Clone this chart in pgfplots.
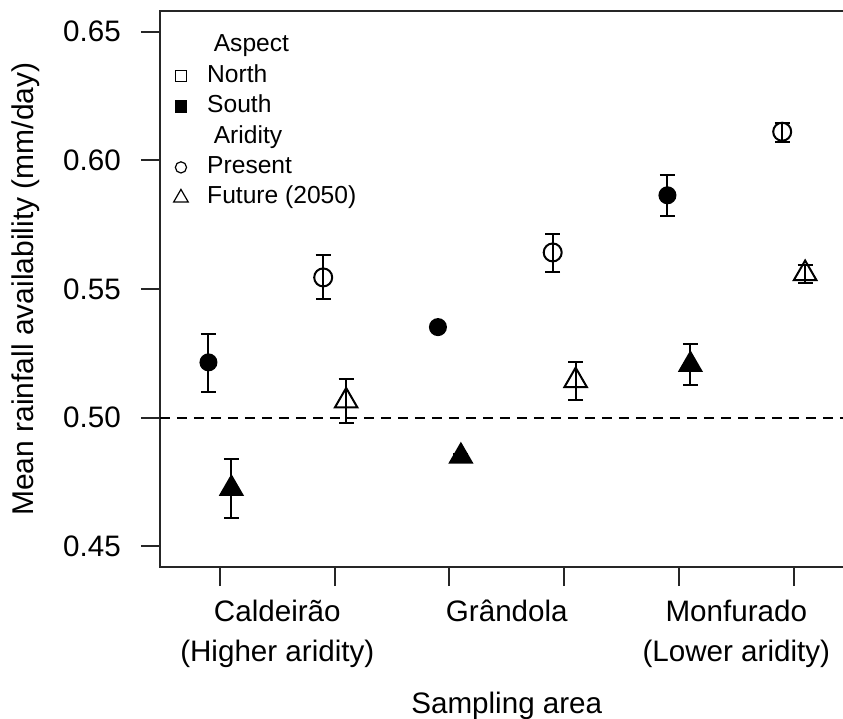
\documentclass[border=0pt]{standalone}
\usepackage{fontspec}
\setmainfont{Liberation Sans}
\usepackage{pgfplots}
\pgfplotsset{compat=1.18}
\usepackage{pgfplotstable}

% South aspect, present aridity
\pgfplotstableread{
x y ep em
0.9 0.5215 0.0112 0.0115
2.9 0.5352 0.0010 0.0010
4.9 0.5864 0.0080 0.0079
}\southpresent
% South aspect, future aridity
\pgfplotstableread{
x y ep em
1.1 0.4725 0.0114 0.0114
3.1 0.4850 0.0010 0.0010
5.1 0.5206 0.0080 0.0079
}\southfuture
% North aspect, present aridity
\pgfplotstableread{
x y ep em
1.9 0.5545 0.0087 0.0083
3.9 0.5642 0.0073 0.0076
5.9 0.6111 0.0035 0.0039
}\northpresent
% North aspect, future aridity
\pgfplotstableread{
x y ep em
2.1 0.5065 0.0086 0.0086
4.1 0.5144 0.0074 0.0075
6.1 0.5560 0.0032 0.0035
}\northfuture

\begin{document}
\begin{tikzpicture}
\begin{axis}[
  at={(0,0)}, anchor=south west,
  scale only axis, width=347pt, height=278pt,
  xmin=0.476, xmax=6.524, ymin=0.442, ymax=0.658,
  axis line style={line width=1pt, black!85},
  tick pos=left,
  tick align=outside, major tick length=9.5pt,
  tick style={line width=1pt, black!85},
  xtick={1,2,3,4,5,6}, xticklabels={},
  extra x ticks={1.5,3.5,5.5},
  extra x tick labels={{Caldeirão\\(Higher aridity)},{Grândola},{Monfurado\\(Lower aridity)}},
  extra x tick style={tick style={draw=none}},
  xticklabel style={align=center, font=\fontsize{14.8}{20}\selectfont, yshift=-3.5pt},
  ytick={0.45,0.50,0.55,0.60,0.65},
  yticklabel style={font=\fontsize{14.8}{17}\selectfont, xshift=-6.5pt,
    /pgf/number format/fixed, /pgf/number format/fixed zerofill,
    /pgf/number format/precision=2},
  /pgf/number format/assume math mode=true,
  xlabel={Sampling area},
  ylabel={Mean rainfall availability (mm/day)},
  xlabel style={at={(axis description cs:0.5,-0.25)}, anchor=center, font=\fontsize{14.8}{17}\selectfont},
  ylabel style={at={(axis description cs:-0.193,0.5)}, anchor=center, font=\fontsize{15}{17}\selectfont},
  legend image code/.code={\draw[#1] plot coordinates {(0pt,0pt)};},
  legend cell align=left,
  legend style={draw=none, fill=none, inner sep=0pt, outer sep=0pt,
    at={(axis description cs:0.02,0.959)}, anchor=north west,
    font=\fontsize{12.3}{14}\selectfont,
    nodes={inner sep=0pt, text height=9pt, text depth=3pt},
    row sep=3.2pt, column sep=9.5pt},
]
\addplot[black, dashed, line width=1pt, dash pattern=on 5pt off 3.5pt, forget plot]
  coordinates {(0.476,0.5) (6.524,0.5)};

\addplot[only marks, black, mark=*, mark size=4pt, line width=1pt, forget plot,
  error bars/.cd, y dir=both, y explicit,
  error bar style={line width=1pt, black},
  error mark options={rotate=90, mark size=3.75pt, line width=1pt, black}]
  table[x=x, y=y, y error plus=ep, y error minus=em] {\southpresent};
\addplot[only marks, black, mark=triangle*, mark size=6.3pt, line width=1pt, forget plot,
  error bars/.cd, y dir=both, y explicit,
  error bar style={line width=1pt, black},
  error mark options={rotate=90, mark size=3.75pt, line width=1pt, black}]
  table[x=x, y=y, y error plus=ep, y error minus=em] {\southfuture};
\addplot[only marks, black, mark=o, mark size=4.5pt, line width=1pt, forget plot,
  error bars/.cd, y dir=both, y explicit,
  error bar style={line width=1pt, black},
  error mark options={rotate=90, mark size=3.75pt, line width=1pt, black}]
  table[x=x, y=y, y error plus=ep, y error minus=em] {\northpresent};
\addplot[only marks, black, mark=triangle, mark size=6.5pt, line width=1pt, forget plot,
  error bars/.cd, y dir=both, y explicit,
  error bar style={line width=1pt, black},
  error mark options={rotate=90, mark size=3.75pt, line width=1pt, black}]
  table[x=x, y=y, y error plus=ep, y error minus=em] {\northfuture};

\addlegendimage{empty legend}
\addlegendentry{\hspace{3.3pt}Aspect}
\addlegendimage{black, mark=square, mark size=2.8pt, line width=0.6pt}
\addlegendentry{North}
\addlegendimage{black, mark=square*, mark size=2.8pt, line width=0.6pt}
\addlegendentry{South}
\addlegendimage{empty legend}
\addlegendentry{\hspace{3.3pt}Aridity}
\addlegendimage{black, mark=o, mark size=2.8pt, line width=0.6pt}
\addlegendentry{Present}
\addlegendimage{black, mark=triangle, mark size=4.2pt, line width=0.6pt}
\addlegendentry{Future (2050)}
\end{axis}
\pgfresetboundingbox
\path[use as bounding box] (-79.9pt,-76pt) rectangle (341.6pt,283.5pt);
\end{tikzpicture}
\end{document}
